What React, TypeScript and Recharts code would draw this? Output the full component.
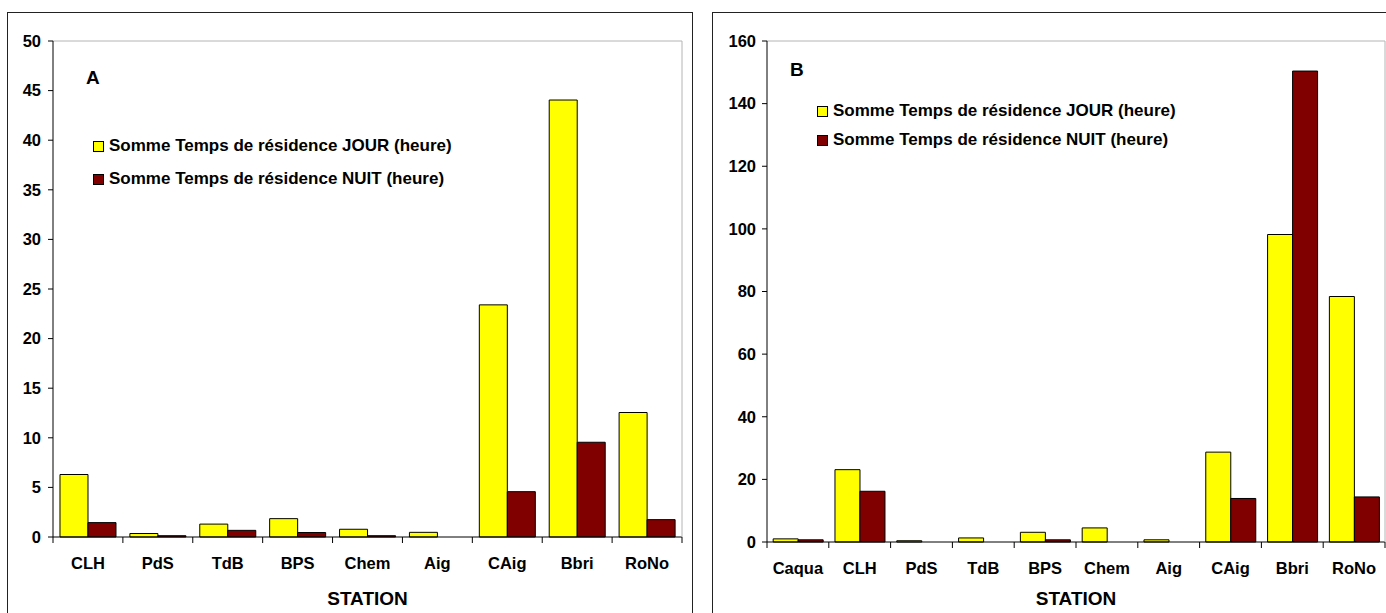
import React from 'react';
import { BarChart, Bar, XAxis, YAxis, ReferenceLine } from 'recharts';

// chart A
const stationsA = ['CLH', 'PdS', 'TdB', 'BPS', 'Chem', 'Aig', 'CAig', 'Bbri', 'RoNo'];
const jourA = [6.3, 0.35, 1.3, 1.85, 0.78, 0.47, 23.4, 44.05, 12.55];
const nuitA = [1.45, 0.13, 0.67, 0.45, 0.13, 0, 4.57, 9.55, 1.75];
const ticksA = [0, 5, 10, 15, 20, 25, 30, 35, 40, 45, 50];

// chart B
const stationsB = ['Caqua', 'CLH', 'PdS', 'TdB', 'BPS', 'Chem', 'Aig', 'CAig', 'Bbri', 'RoNo'];
const jourB = [1.0, 23.1, 0.4, 1.3, 3.1, 4.5, 0.7, 28.7, 98.2, 78.4];
const nuitB = [0.7, 16.2, 0, 0, 0.7, 0, 0, 13.9, 150.4, 14.4];
const ticksB = [0, 20, 40, 60, 80, 100, 120, 140, 160];

const JOUR = 'Somme Temps de résidence JOUR (heure)';
const NUIT = 'Somme Temps de résidence NUIT (heure)';
const YELLOW = '#ffff00';
const MAROON = '#800000';
const FONT = '"Liberation Sans", Arial, sans-serif';
const TICK_FS = 16.5;

const dataA = stationsA.map((name, i) => ({ name, jour: jourA[i], nuit: nuitA[i] }));
const dataB = stationsB.map((name, i) => ({ name, jour: jourB[i], nuit: nuitB[i] }));

const StationTick = ({ x, payload, index, band, axisY }: any) => {
  const half = band / 2;
  return (
    <g>
      {index === 0 && <line x1={x - half} x2={x - half} y1={axisY} y2={axisY + 6} stroke="#000" />}
      <line x1={x + half} x2={x + half} y1={axisY} y2={axisY + 6} stroke="#000" />
      <text x={x} y={axisY + 32} textAnchor="middle" fontFamily={FONT} fontWeight="bold" fontSize={TICK_FS} fill="#000">
        {payload.value}
      </text>
    </g>
  );
};

const LegendBox = ({ gap }: { gap: number }) => (
  <div style={{ fontFamily: FONT, fontWeight: 'bold', fontSize: 17, color: '#000' }}>
    {[{ c: YELLOW, t: JOUR }, { c: MAROON, t: NUIT }].map((it, i) => (
      <div key={i} style={{ display: 'flex', alignItems: 'center', height: 18, marginBottom: i === 0 ? gap : 0, whiteSpace: 'nowrap' }}>
        <span style={{ display: 'inline-block', width: 9, height: 9, background: it.c, border: '1px solid #000', marginRight: 5 }} />
        {it.t}
      </div>
    ))}
  </div>
);

interface PanelProps {
  data: any[];
  ticks: number[];
  max: number;
  width: number;
  yWidth: number;
  xHeight: number;
  right: number;
  band: number;
  letter: string;
  letterX: number;
  letterY: number;
  legendX: number;
  legendY: number;
  legendGap: number;
  tickMargin: number;
}

const Panel = (p: PanelProps) => {
  const axisY = 613 - p.xHeight;
  return (
    <div style={{ position: 'relative', width: p.width, height: 613 }}>
      <BarChart
        width={p.width}
        height={613}
        data={p.data}
        margin={{ top: 41, right: p.right, left: 0, bottom: 0 }}
        barCategoryGap="10%"
        barGap={0}
      >
        <XAxis
          dataKey="name"
          height={p.xHeight}
          axisLine={{ stroke: '#000' }}
          tickLine={false}
          interval={0}
          tick={<StationTick band={p.band} axisY={axisY} />}
          label={{ value: 'STATION', position: 'insideBottom', offset: 8, fontFamily: FONT, fontWeight: 'bold', fontSize: 19, fill: '#000' }}
        />
        <YAxis
          yAxisId="l"
          width={p.yWidth}
          domain={[0, p.max]}
          ticks={p.ticks}
          interval={0}
          axisLine={{ stroke: '#000' }}
          tickLine={{ stroke: '#000' }}
          tickSize={5}
          tickMargin={p.tickMargin}
          tick={{ fontFamily: FONT, fontWeight: 'bold', fontSize: TICK_FS, fill: '#000' }}
        />
        <YAxis yAxisId="r" orientation="right" width={1} domain={[0, p.max]} tick={false} tickLine={false} axisLine={{ stroke: '#b4b4b4' }} />
        <ReferenceLine yAxisId="l" y={p.max} stroke="#b4b4b4" />
        <Bar yAxisId="l" dataKey="jour" name={JOUR} fill={YELLOW} stroke="#000" strokeWidth={1} isAnimationActive={false} />
        <Bar yAxisId="l" dataKey="nuit" name={NUIT} fill={MAROON} stroke="#000" strokeWidth={1} isAnimationActive={false} />
      </BarChart>
      <div style={{ position: 'absolute', left: p.legendX, top: p.legendY }}>
        <LegendBox gap={p.legendGap} />
      </div>
      <div
        style={{
          position: 'absolute',
          left: p.letterX,
          top: p.letterY - 11,
          fontFamily: FONT,
          fontWeight: 'bold',
          fontSize: 19,
          lineHeight: '22px',
        }}
      >
        {p.letter}
      </div>
    </div>
  );
};

export default function App() {
  return (
    <div style={{ position: 'absolute', left: 0, top: 0, width: 1386, height: 613, overflow: 'hidden', background: '#fff' }}>
      <div style={{ position: 'absolute', left: 7, top: 12, width: 686, height: 700, border: '1.5px solid #222', boxSizing: 'border-box' }} />
      <div style={{ position: 'absolute', left: 712, top: 12, width: 700, height: 700, border: '1.5px solid #222', boxSizing: 'border-box' }} />
      <div style={{ position: 'absolute', left: 0, top: 0 }}>
        <Panel
          data={dataA}
          ticks={ticksA}
          max={50}
          width={693}
          yWidth={53}
          xHeight={76}
          right={10}
          band={629 / 9}
          letter="A"
          letterX={86}
          letterY={78}
          legendX={93}
          legendY={137}
          legendGap={15}
          tickMargin={7}
        />
      </div>
      <div style={{ position: 'absolute', left: 712, top: 0 }}>
        <Panel
          data={dataB}
          ticks={ticksB}
          max={160}
          width={674}
          yWidth={55}
          xHeight={71}
          right={0}
          band={618 / 10}
          letter="B"
          letterX={78}
          letterY={70}
          legendX={105}
          legendY={102}
          legendGap={11}
          tickMargin={6}
        />
      </div>
    </div>
  );
}
